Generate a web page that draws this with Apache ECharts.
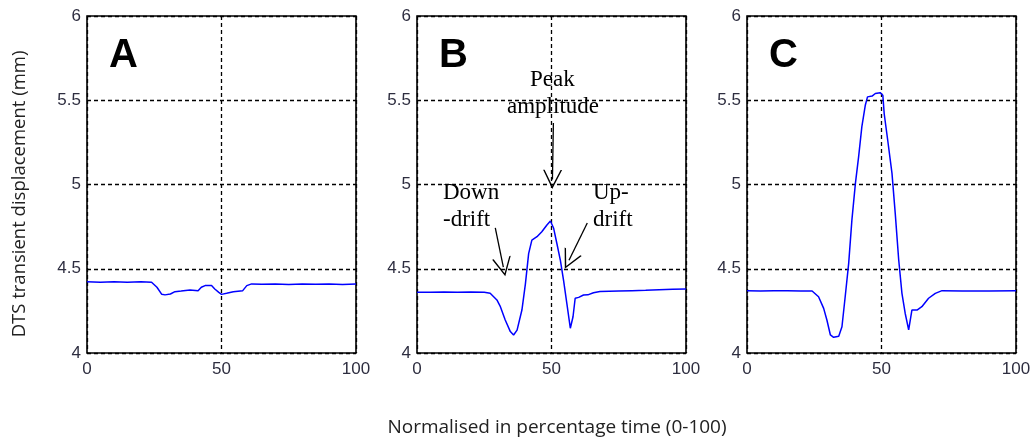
<!DOCTYPE html>
<html>
<head>
<meta charset="utf-8">
<script src="https://cdn.jsdelivr.net/npm/echarts@6/dist/echarts.min.js"></script>
<style>
  html, body { margin: 0; padding: 0; background: #fff; }
  #chart { width: 1034px; height: 443px; }
</style>
</head>
<body>
<div id="chart"></div>
<script>
// 面板 A：平稳
const xA = [0, 5, 10, 15, 20, 24, 26, 27.8, 29, 31, 32.7, 35, 38.3, 41.3, 42.5, 43.9, 46.3, 47.5, 49, 50, 51.9, 54.4, 57.9, 59.4, 61.2, 65, 70, 75, 80, 85, 90, 95, 100];
const yA = [4.423, 4.42, 4.423, 4.42, 4.423, 4.42, 4.39, 4.348, 4.345, 4.35, 4.364, 4.368, 4.374, 4.37, 4.39, 4.40, 4.40, 4.38, 4.36, 4.348, 4.354, 4.364, 4.37, 4.40, 4.41, 4.408, 4.41, 4.406, 4.41, 4.408, 4.41, 4.407, 4.41];

// 面板 B：小峰
const xB = [0, 5, 10, 15, 20, 25, 27.2, 29.7, 31, 32.8, 34.7, 35.9, 37.2, 39, 40.3, 41.5, 42.7, 44.6, 46.4, 48.3, 49.6, 50.8, 52, 53.3, 54.5, 55.7, 57, 58, 58.8, 60.1, 61.9, 63.5, 65.6, 68, 75, 80, 85, 90, 95, 100];
const yB = [4.36, 4.36, 4.362, 4.36, 4.362, 4.36, 4.355, 4.315, 4.275, 4.196, 4.127, 4.107, 4.136, 4.255, 4.41, 4.59, 4.67, 4.69, 4.72, 4.76, 4.783, 4.74, 4.65, 4.55, 4.43, 4.295, 4.147, 4.215, 4.325, 4.33, 4.344, 4.345, 4.358, 4.365, 4.368, 4.37, 4.372, 4.375, 4.378, 4.38];

// 面板 C：大峰
const xC = [0, 5, 10, 15, 20, 24.2, 26.6, 28.5, 29.7, 31, 32.2, 34.1, 35.3, 36.5, 37.8, 39, 40.3, 41.5, 42.7, 44, 44.8, 46.5, 47.7, 49.5, 50.5, 51, 52.3, 53.9, 55.1, 56.4, 57.6, 58.8, 60.1, 61.3, 63.2, 65, 67.5, 70, 72.5, 80, 90, 100];
const yC = [4.37, 4.368, 4.37, 4.37, 4.368, 4.368, 4.334, 4.265, 4.196, 4.107, 4.093, 4.1, 4.156, 4.334, 4.532, 4.79, 5.007, 5.165, 5.343, 5.472, 5.52, 5.525, 5.54, 5.545, 5.53, 5.42, 5.264, 5.066, 4.83, 4.552, 4.354, 4.236, 4.137, 4.255, 4.255, 4.275, 4.325, 4.354, 4.37, 4.368, 4.368, 4.37];

const panelNames = ['A', 'B', 'C'];
const gridLefts = [87, 417, 747];

// B 面板的箭头（数据坐标：起点 -> 终点）
const arrowStarts = [[50.7, 5.365], [29.1, 4.742], [63.3, 4.771]];
const arrowEnds = [[50.35, 5.03], [32.1, 4.51], [56.5, 4.55]];

const toPairs = (xs, ys) => xs.map((x, i) => [x, ys[i]]);

const chart = echarts.init(document.getElementById('chart'));

const chevron = 'path://M0,15 L10,0 L20,15 L18.4,15 L10,2.6 L1.6,15 Z';

const grids = [], xAxes = [], yAxes = [];
gridLefts.forEach((left, i) => {
  grids.push({
    left: left, top: 16, width: 269, height: 337,
    show: true, borderColor: '#000', borderWidth: 1.6, backgroundColor: '#fff'
  });
  xAxes.push({
    type: 'value', gridIndex: i, min: 0, max: 100, interval: 50,
    axisLine: { show: false }, axisTick: { show: false },
    axisLabel: { color: '#2e2e40', fontSize: 17, fontFamily: 'Liberation Sans', margin: 8 },
    splitLine: { show: true, lineStyle: { color: '#000', type: [4, 3], width: 1.3 } }
  });
  yAxes.push({
    type: 'value', gridIndex: i, min: 4, max: 6, interval: 0.5,
    axisLine: { show: false }, axisTick: { show: false },
    axisLabel: { color: '#2e2e40', fontSize: 17, fontFamily: 'Liberation Sans', margin: 6 },
    splitLine: { show: true, lineStyle: { color: '#000', type: [4, 3], width: 1.3 } }
  });
});

const lineSeries = [toPairs(xA, yA), toPairs(xB, yB), toPairs(xC, yC)].map((d, i) => ({
  type: 'line', xAxisIndex: i, yAxisIndex: i, data: d,
  showSymbol: false, silent: true,
  lineStyle: { color: '#0000ff', width: 1.5 }
}));

// 箭头挂到 B 面板上
lineSeries[1].markLine = {
  silent: true,
  symbol: ['none', chevron],
  symbolSize: 19,
  label: { show: false },
  lineStyle: { color: '#000', width: 1.3, type: 'solid' },
  data: arrowStarts.map((s, k) => [{ coord: s }, { coord: arrowEnds[k] }])
};

const serif = { fontFamily: 'Liberation Serif', fontSize: 23, fill: '#000' };

chart.setOption({
  animation: false,
  grid: grids,
  xAxis: xAxes,
  yAxis: yAxes,
  series: lineSeries,
  graphic: [
    // 面板字母
    ...panelNames.map((n, i) => ({
      type: 'text', left: gridLefts[i] + 22, top: 36,
      style: { text: n, fontFamily: 'Liberation Sans', fontWeight: 'bold', fontSize: 40, fill: '#000' }
    })),
    // B 面板注释
    { type: 'text', left: 530, top: 68, style: Object.assign({ text: 'Peak' }, serif) },
    { type: 'text', left: 507, top: 95, style: Object.assign({ text: 'amplitude' }, serif) },
    { type: 'text', left: 443, top: 181, style: Object.assign({ text: 'Down' }, serif) },
    { type: 'text', left: 443, top: 208, style: Object.assign({ text: '-drift' }, serif) },
    { type: 'text', left: 593, top: 181, style: Object.assign({ text: 'Up-' }, serif) },
    { type: 'text', left: 593, top: 208, style: Object.assign({ text: 'drift' }, serif) },
    // 坐标轴标题
    {
      type: 'text', x: 20, y: 194, rotation: Math.PI / 2,
      style: { text: 'DTS transient displacement (mm)', fontFamily: 'Open Sans', fontSize: 18.5, fill: '#222', align: 'center', verticalAlign: 'middle' }
    },
    {
      type: 'text', x: 557, y: 428,
      style: { text: 'Normalised in percentage time (0-100)', fontFamily: 'Open Sans', fontSize: 19, fill: '#222', align: 'center', verticalAlign: 'middle' }
    }
  ]
});
</script>
</body>
</html>
